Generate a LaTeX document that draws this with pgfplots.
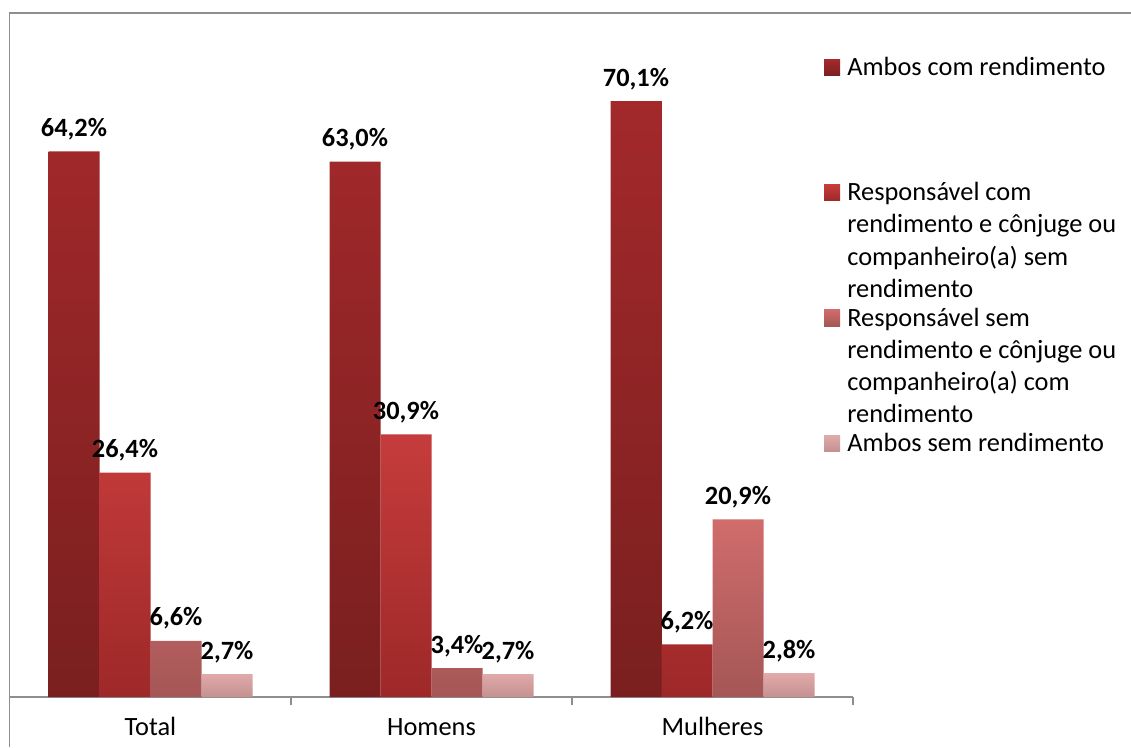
\documentclass[border=0pt]{standalone}
\usepackage{pgfplots}
\pgfplotsset{compat=1.18}
\usepackage{fontspec}
\setmainfont{Carlito}

\definecolor{ctop}{HTML}{A3292B}
\definecolor{cbot}{HTML}{7A1F1F}
\definecolor{rtop}{HTML}{C63C3C}
\definecolor{rbot}{HTML}{9E2828}
\definecolor{ptop}{HTML}{D06C6C}
\definecolor{pbot}{HTML}{A55656}
\definecolor{ltop}{HTML}{E2ABAB}
\definecolor{lbot}{HTML}{C49090}
\definecolor{frame}{HTML}{8E8E8E}

\newcommand{\lbl}{\fontsize{15}{18}\selectfont}

\begin{document}
\begin{tikzpicture}
\path[use as bounding box] (0,0) rectangle (22.62cm,14.94cm);
% outer chart frame (right and bottom edges are cut off)
\draw[frame, line width=1.1pt] (0.19cm,0) -- (0.19cm,14.68cm) -- (22.62cm,14.68cm);

\begin{axis}[
    at={(0.2cm,1.0cm)}, anchor=south west,
    scale only axis,
    width=16.86cm, height=13.6cm,
    ybar=0pt, bar width=1.02cm,
    xmin=-0.5, xmax=2.5,
    ymin=0, ymax=80,
    axis x line=bottom, axis y line=none,
    axis line style={frame, line width=1.2pt, -},
    xtick={0.5,1.5,2.5},
    xticklabels={},
    tick align=outside,
    major tick length=0.16cm,
    tick style={frame, line width=1pt},
    extra x ticks={0,1,2},
    extra x tick labels={Total,Homens,Mulheres},
    extra x tick style={major tick length=0pt},
    xticklabel style={font=\lbl, anchor=base, yshift=-0.76cm},
    ytick=\empty,
    nodes near coords={\pgfmathprintnumber[fixed,fixed zerofill,precision=1,use comma]{\pgfplotspointmeta}\%},
    nodes near coords style={font=\lbl\bfseries, anchor=base, yshift=0.3cm, black},
    /pgf/number format/assume math mode=true,
    clip=false,
]
\addplot[draw=none, top color=ctop, bottom color=cbot] coordinates {(0,64.2) (1,63.0) (2,70.1)};
\addplot[draw=none, top color=rtop, bottom color=rbot] coordinates {(0,26.4) (1,30.9) (2,6.2)};
\addplot[draw=none, top color=ptop, bottom color=pbot] coordinates {(0,6.6) (1,3.4) (2,20.9)};
\addplot[draw=none, top color=ltop, bottom color=lbot] coordinates {(0,2.7) (1,2.7) (2,2.8)};
\end{axis}

% legend (1px = 0.02cm, y = 747 - row)
\begin{scope}[every node/.style={font=\lbl, anchor=base west, inner sep=0pt}]
\shade[top color=ctop, bottom color=cbot] (16.48cm,13.42cm) rectangle ++(0.32cm,0.32cm);
\node at (16.94cm,13.42cm) {Ambos com rendimento};
\shade[top color=rtop, bottom color=rbot] (16.48cm,10.92cm) rectangle ++(0.32cm,0.32cm);
\node at (16.94cm,10.92cm) {Responsável com};
\node at (16.94cm,10.28cm) {rendimento e cônjuge ou};
\node at (16.94cm,9.64cm) {companheiro(a) sem};
\node at (16.94cm,9.00cm) {rendimento};
\shade[top color=ptop, bottom color=pbot] (16.48cm,8.42cm) rectangle ++(0.32cm,0.32cm);
\node at (16.94cm,8.42cm) {Responsável sem};
\node at (16.94cm,7.78cm) {rendimento e cônjuge ou};
\node at (16.94cm,7.14cm) {companheiro(a) com};
\node at (16.94cm,6.50cm) {rendimento};
\shade[top color=ltop, bottom color=lbot] (16.48cm,5.92cm) rectangle ++(0.32cm,0.32cm);
\node at (16.94cm,5.92cm) {Ambos sem rendimento};
\end{scope}
\end{tikzpicture}
\end{document}
